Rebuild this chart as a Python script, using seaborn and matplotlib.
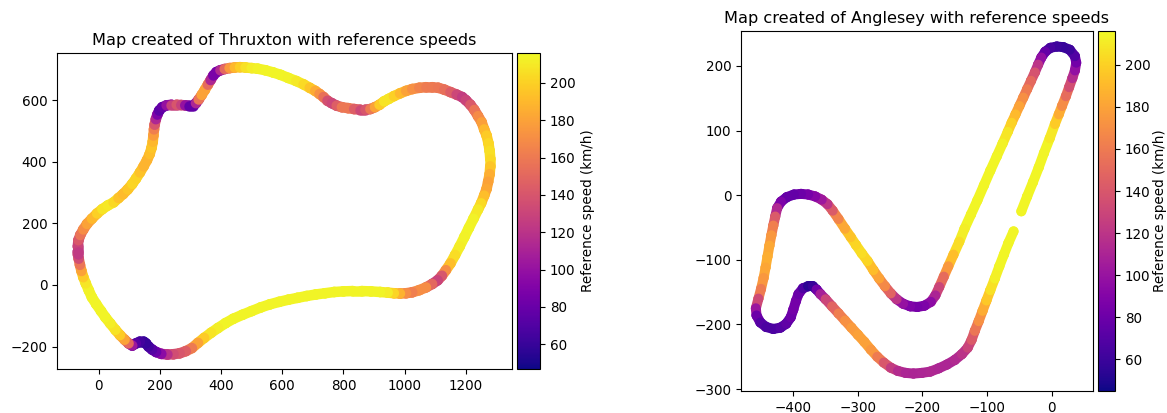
import numpy as np
import matplotlib
matplotlib.use("Agg")
import matplotlib.pyplot as plt
from matplotlib.collections import LineCollection
import seaborn as sns

thruxton_x = [-68, -68, -66, -60, -50, -38, -22, -5, 12, 30,
              49, 65, 80, 95, 110, 122, 135, 147, 158, 167,
              173, 177, 179, 181, 183, 187, 192, 198, 208, 222,
              238, 255, 270, 283, 296, 308, 318, 327, 337, 347,
              357, 366, 375, 385, 398, 412, 428, 445, 462, 480,
              500, 520, 545, 570, 595, 620, 646, 670, 690, 708,
              722, 735, 748, 762, 778, 795, 815, 835, 855, 872,
              888, 903, 918, 933, 948, 965, 985, 1005, 1025, 1048,
              1070, 1090, 1110, 1130, 1150, 1170, 1188, 1200, 1215, 1228,
              1240, 1252, 1260, 1268, 1274, 1278, 1280, 1280, 1278, 1273,
              1268, 1260, 1250, 1240, 1225, 1210, 1195, 1180, 1165, 1150,
              1135, 1122, 1108, 1090, 1070, 1048, 1025, 1005, 985, 965,
              945, 920, 890, 860, 830, 800, 770, 740, 710, 680,
              650, 620, 590, 560, 530, 500, 470, 440, 415, 390,
              368, 345, 325, 305, 285, 265, 245, 225, 205, 188,
              175, 163, 155, 147, 135, 122, 110, 98, 85, 70,
              55, 38, 22, 8, -8, -22, -32, -42, -50, -56,
              -61, -65, -68, -68]
thruxton_y = [108, 125, 145, 162, 180, 198, 215, 232, 246, 258,
              268, 282, 295, 310, 328, 345, 365, 385, 405, 425,
              445, 465, 485, 505, 520, 538, 553, 566, 577, 583,
              585, 585, 584, 583, 582, 582, 590, 602, 617, 633,
              650, 665, 680, 691, 697, 701, 704, 706, 707, 706,
              704, 702, 697, 690, 682, 672, 662, 651, 640, 630,
              620, 610, 598, 590, 582, 577, 574, 571, 569, 569,
              571, 577, 585, 596, 604, 613, 622, 630, 636, 640,
              642, 642, 640, 634, 626, 618, 610, 600, 585, 568,
              548, 528, 505, 485, 460, 435, 410, 385, 360, 335,
              312, 290, 265, 245, 215, 185, 155, 125, 97, 70,
              48, 30, 15, 3, -8, -17, -24, -27, -28, -27,
              -25, -23, -21, -20, -20, -21, -23, -27, -31, -36,
              -42, -48, -55, -63, -73, -85, -97, -110, -124, -140,
              -155, -172, -188, -205, -215, -222, -225, -226, -224, -218,
              -210, -200, -190, -184, -184, -190, -197, -190, -178, -163,
              -146, -125, -105, -85, -62, -40, -18, 5, 25, 45,
              65, 85, 100, 108]
thruxton_speed = [122, 125, 135, 148, 165, 175, 185, 195, 205, 210,
                  208, 198, 190, 192, 200, 204, 198, 190, 186, 190,
                  195, 195, 185, 170, 155, 125, 100, 78, 72, 85,
                  115, 140, 140, 115, 85, 70, 85, 140, 175, 185,
                  175, 130, 95, 80, 95, 135, 165, 185, 195, 203,
                  210, 212, 214, 214, 214, 214, 212, 208, 200, 190,
                  178, 165, 145, 128, 135, 155, 162, 155, 135, 130,
                  150, 170, 190, 205, 210, 205, 195, 185, 175, 168,
                  162, 160, 160, 158, 150, 138, 125, 125, 135, 150,
                  165, 172, 185, 195, 200, 205, 206, 200, 190, 180,
                  180, 185, 200, 208, 212, 214, 214, 212, 210, 200,
                  185, 155, 125, 135, 165, 175, 165, 160, 180, 195,
                  208, 214, 214, 214, 214, 214, 214, 214, 214, 214,
                  214, 214, 214, 214, 214, 214, 214, 214, 214, 213,
                  210, 205, 190, 170, 150, 140, 140, 130, 105, 85,
                  75, 68, 62, 58, 62, 68, 78, 130, 170, 190,
                  205, 210, 214, 214, 214, 214, 214, 212, 205, 190,
                  170, 145, 125, 122]

anglesey_x = [-47, -38, -29, -20, -12, -3, 5, 11, 16, 22,
              27, 32, 36, 38, 36, 28, 18, 8, -2, -10,
              -16, -21, -26, -32, -38, -44, -50, -56, -62, -68,
              -76, -85, -95, -105, -115, -125, -135, -143, -152, -160,
              -167, -174, -180, -187, -197, -208, -219, -230, -240, -249,
              -258, -267, -276, -285, -294, -303, -311, -320, -330, -339,
              -347, -356, -366, -377, -388, -399, -410, -419, -425, -428,
              -431, -434, -437, -440, -443, -446, -450, -454, -458, -457,
              -451, -442, -431, -420, -411, -404, -400, -396, -392, -385,
              -377, -370, -364, -358, -350, -340, -330, -320, -310, -300,
              -290, -280, -270, -260, -249, -238, -226, -214, -201, -188,
              -175, -162, -150, -139, -130, -124, -119, -113, -107, -101,
              -95, -88, -81, -74, -67, -59]
anglesey_y = [-25, -2, 20, 43, 65, 88, 110, 125, 138, 153,
              167, 181, 193, 205, 215, 225, 229, 230, 228, 222,
              213, 202, 190, 177, 164, 151, 138, 125, 112, 98,
              80, 60, 38, 15, -8, -30, -52, -72, -92, -110,
              -126, -142, -155, -165, -171, -173, -172, -168, -161, -152,
              -141, -129, -116, -102, -90, -77, -65, -52, -37, -24,
              -14, -7, -2, 1, 2, 1, -3, -10, -20, -33,
              -47, -62, -78, -95, -112, -128, -145, -160, -175, -186,
              -197, -204, -207, -205, -199, -189, -177, -164, -153, -144,
              -141, -141, -146, -153, -161, -172, -183, -194, -205, -216,
              -227, -239, -250, -259, -267, -272, -275, -276, -275, -273,
              -268, -262, -255, -246, -236, -224, -210, -195, -179, -163,
              -147, -129, -110, -92, -74, -56]
anglesey_speed = [214, 214, 214, 214, 214, 213, 205, 190, 178, 160,
                  145, 125, 105, 90, 75, 62, 58, 60, 62, 68,
                  85, 110, 130, 145, 155, 165, 175, 185, 195, 205,
                  212, 214, 214, 214, 214, 214, 213, 210, 200, 185,
                  165, 140, 120, 100, 90, 85, 85, 92, 105, 135,
                  160, 175, 185, 198, 205, 205, 198, 190, 175, 155,
                  130, 110, 95, 88, 82, 78, 75, 80, 95, 130,
                  155, 170, 180, 185, 185, 178, 170, 150, 115, 88,
                  72, 68, 65, 68, 72, 78, 82, 85, 82, 75,
                  60, 48, 70, 95, 120, 140, 155, 168, 175, 178,
                  180, 178, 170, 150, 130, 118, 112, 110, 110, 112,
                  112, 110, 112, 115, 122, 135, 150, 165, 178, 190,
                  202, 210, 214, 214, 214, 214]

thruxton_limits = {"x": (-136, 1351), "y": (-273, 753), "speed": (46.7, 216)}
anglesey_limits = {"x": (-481, 64), "y": (-303, 254), "speed": (45, 216)}

W, H = 1167, 413
plt.rcParams["font.size"] = 9.75


def px_axes(fig, left, top, right, bottom):
    return fig.add_axes([left / W, 1 - bottom / H, (right - left) / W, (bottom - top) / H])


def draw_track(ax, cax, x, y, speed, limits, name, width, pad):
    x = np.array(x, dtype=float)
    y = np.array(y, dtype=float)
    speed = np.array(speed, dtype=float)
    vmin, vmax = limits["speed"]
    cmap = sns.color_palette("plasma", as_cmap=True)
    norm = plt.Normalize(vmin, vmax)

    sns.scatterplot(x=x, y=y, hue=speed, hue_norm=(vmin, vmax), palette="plasma", s=(width * 0.72) ** 2,
                    linewidth=0, legend=False, ax=ax, zorder=1)
    # segments between the read points go on top so the track looks continuous
    pts = np.column_stack([x, y])
    segs = np.stack([pts[:-1], pts[1:]], axis=1)
    lc = LineCollection(segs, cmap=cmap, norm=norm, linewidths=width * 0.72, capstyle="round", zorder=2)
    lc.set_array((speed[:-1] + speed[1:]) / 2)
    ax.add_collection(lc)

    ax.set_xlim(limits["x"])
    ax.set_ylim(limits["y"])
    ax.tick_params(labelsize=9.75)
    ax.set_title("Map created of " + name + " with reference speeds", fontsize=11.65)
    sm = plt.cm.ScalarMappable(norm=norm, cmap=cmap)
    cb = fig.colorbar(sm, cax=cax)
    cb.ax.tick_params(labelsize=9.75)
    cb.set_label("Reference speed (km/h)", fontsize=9.75, labelpad=pad)


fig = plt.figure(figsize=(W / 100, H / 100), dpi=100)

ax1 = px_axes(fig, 57, 53, 512, 369)
cax1 = px_axes(fig, 517, 53, 540, 369)
draw_track(ax1, cax1, thruxton_x, thruxton_y, thruxton_speed, thruxton_limits, "Thruxton", 10.5, 4)

ax2 = px_axes(fig, 741, 31, 1093, 391)
cax2 = px_axes(fig, 1098, 31, 1115, 391)
draw_track(ax2, cax2, anglesey_x, anglesey_y, anglesey_speed, anglesey_limits, "Anglesey", 10, 2)

fig.savefig("out.png", dpi=100)
